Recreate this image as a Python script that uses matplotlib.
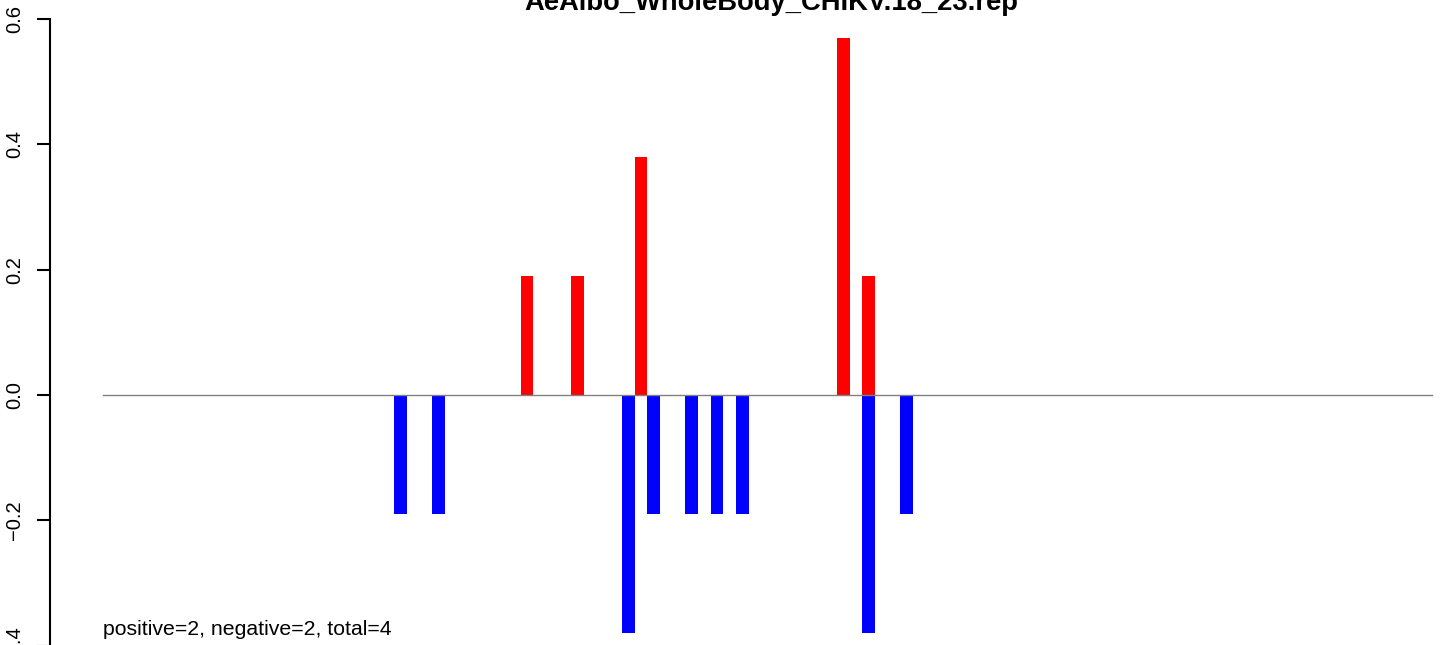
import numpy as np
import matplotlib
matplotlib.use("Agg")
import matplotlib.pyplot as plt

plt.rcParams['font.family'] = ['Liberation Sans', 'DejaVu Sans']

# Data: bins with a non-zero score (0-based bin index)
n_bins = 105
pos_bins = [33, 37, 42, 58, 60]
pos_vals = [0.19, 0.19, 0.38, 0.57, 0.19]
neg_bins = [23, 26, 41, 43, 46, 48, 50, 60, 63]
neg_vals = [-0.19, -0.19, -0.38, -0.19, -0.19, -0.19, -0.19, -0.38, -0.19]
y_ticks = [-0.4, -0.2, 0.0, 0.2, 0.4, 0.6]
title = "AeAlbo_WholeBody_CHIKV.18_23.rep"
note = "positive=2, negative=2, total=4"

pos = np.zeros(n_bins)
pos[pos_bins] = pos_vals
neg = np.zeros(n_bins)
neg[neg_bins] = neg_vals

W, H = 1444, 645
fig = plt.figure(figsize=(W / 100, H / 100), dpi=100)

# plot region (R style: 4% padding), it runs past the right/bottom edges
xlim = (-0.04 * n_bins, 1.04 * n_bins)
ylim = (-0.44, 0.64)
left_px, right_px = 50, 1485
top_px, bottom_px = -6.1, 670.7
ax = fig.add_axes([left_px / W, (H - bottom_px) / H,
                   (right_px - left_px) / W, (bottom_px - top_px) / H])
ax.set_xlim(*xlim)
ax.set_ylim(*ylim)

x = np.arange(n_bins) + 0.5
ax.bar(x, pos, width=1.0, color='#ff0000', linewidth=0)
ax.bar(x, neg, width=1.0, color='#0000ff', linewidth=0)
ax.plot([0, n_bins], [0, 0], color='#808080', lw=1)

for s in ['top', 'right', 'bottom']:
    ax.spines[s].set_visible(False)
ax.spines['left'].set_bounds(y_ticks[0], y_ticks[-1])
ax.spines['left'].set_linewidth(1.5)
ax.set_xticks([])
ax.set_yticks(y_ticks)
ax.set_yticklabels(["\u22120.4", "\u22120.2", "0.0", "0.2", "0.4", "0.6"],
                   rotation=90, va='center', fontsize=14.5)
ax.tick_params(axis='y', length=9.4, width=1.5, pad=9)

ax.text(0, -0.383, note, ha='left', va='baseline', fontsize=15.3)

fig.text(771 / W, (H - 10) / H, title, ha='center', va='baseline',
         fontsize=19.7, fontweight='bold')

fig.savefig("out.png", dpi=100)
